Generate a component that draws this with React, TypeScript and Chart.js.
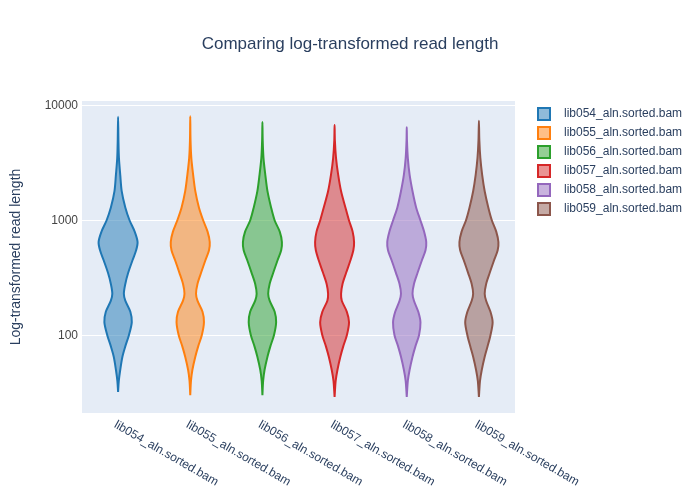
import React, { useEffect, useRef } from "react";
import { Chart, registerables } from "chart.js";
Chart.register(...registerables);

const categories = ["lib054_aln.sorted.bam","lib055_aln.sorted.bam","lib056_aln.sorted.bam","lib057_aln.sorted.bam","lib058_aln.sorted.bam","lib059_aln.sorted.bam"];
const colors = ["#1f77b4","#ff7f0e","#2ca02c","#d62728","#9467bd","#8c564b"];
const fills = ["rgba(31,119,180,0.5)","rgba(255,127,14,0.5)","rgba(44,160,44,0.5)","rgba(214,39,40,0.5)","rgba(148,103,189,0.5)","rgba(140,86,75,0.5)"];
// read length levels (log-spaced) at which violin half-widths are read
const levels = [40,50,65,80,100,130,160,200,230,280,350,450,550,650,800,1000,1300,1800,2500,3500,5000];
const minLength = [32,30,30,29,29,29];
const maxLength = [8000,8100,7200,6800,6500,7400];
const widths054 = [0.01,0.03,0.06,0.1,0.15,0.19,0.17,0.1,0.08,0.1,0.14,0.2,0.25,0.27,0.23,0.16,0.1,0.05,0.03,0.012,0.005];
const widths055 = [0.01,0.03,0.07,0.11,0.16,0.19,0.17,0.1,0.08,0.1,0.15,0.21,0.26,0.27,0.24,0.18,0.12,0.07,0.04,0.015,0.004];
const widths056 = [0.01,0.03,0.07,0.11,0.16,0.19,0.17,0.1,0.08,0.1,0.15,0.21,0.26,0.27,0.24,0.17,0.12,0.07,0.04,0.015,0.004];
const widths057 = [0.015,0.04,0.08,0.12,0.17,0.2,0.17,0.1,0.09,0.11,0.16,0.22,0.26,0.27,0.25,0.2,0.15,0.09,0.05,0.02,0.004];
const widths058 = [0.015,0.04,0.08,0.12,0.17,0.19,0.16,0.1,0.08,0.1,0.15,0.21,0.26,0.27,0.24,0.19,0.13,0.08,0.04,0.015,0.003];
const widths059 = [0.015,0.04,0.08,0.12,0.16,0.19,0.16,0.1,0.08,0.1,0.15,0.21,0.26,0.27,0.24,0.18,0.13,0.08,0.045,0.02,0.006];
const allWidths = [widths054,widths055,widths056,widths057,widths058,widths059];
const yTicks = [100,1000,10000];

const FONT = "'Liberation Sans', Arial, sans-serif";

export default function App() {
  const ref = useRef<HTMLCanvasElement>(null);
  useEffect(() => {
    document.body.style.margin = "0";
    const datasets = categories.map((name, i) => {
      const w = allWidths[i];
      const pts: {x:number;y:number}[] = [{ x: i, y: minLength[i] }];
      levels.forEach((l, k) => pts.push({ x: i + w[k], y: l }));
      pts.push({ x: i, y: maxLength[i] });
      for (let k = levels.length - 1; k >= 0; k--) pts.push({ x: i - w[k], y: levels[k] });
      pts.push({ x: i, y: minLength[i] });
      return {
        label: name, data: pts, showLine: true, fill: "shape" as any,
        borderColor: colors[i], backgroundColor: fills[i], borderWidth: 2,
        pointRadius: 0, tension: 0.3,
      };
    });
    const deco = {
      id: "deco",
      beforeDraw(c: any) {
        const { ctx, chartArea: a } = c;
        ctx.save(); ctx.fillStyle = "#e5ecf6";
        ctx.fillRect(a.left, a.top, a.right - a.left, a.bottom - a.top); ctx.restore();
      },
      afterDraw(c: any) {
        const ctx = c.ctx; const xs = c.scales.x;
        ctx.save();
        ctx.fillStyle = "#2a3f5f"; ctx.font = `17px ${FONT}`; ctx.textAlign = "center"; ctx.textBaseline = "middle";
        ctx.fillText("Comparing log-transformed read length", 350, 44);
        ctx.font = `12px ${FONT}`; ctx.textAlign = "left";
        categories.forEach((name, i) => {
          const px = xs.getPixelForValue(i);
          ctx.save(); ctx.translate(px - 3, 424); ctx.rotate(Math.PI / 6);
          ctx.fillText(name, 0, 0); ctx.restore();
          const y = 114 + i * 19;
          ctx.fillStyle = fills[i]; ctx.fillRect(538, y - 6, 12, 12);
          ctx.strokeStyle = colors[i]; ctx.lineWidth = 2; ctx.strokeRect(538, y - 6, 12, 12);
          ctx.fillStyle = "#2a3f5f"; ctx.fillText(name, 564, y);
        });
        ctx.restore();
      },
    };
    const chart = new Chart(ref.current!, {
      type: "scatter",
      data: { datasets },
      plugins: [deco],
      options: {
        animation: false, responsive: false,
        layout: { padding: { top: 101, right: 185, left: 0, bottom: 0 } },
        plugins: { legend: { display: false }, tooltip: { enabled: false } },
        scales: {
          x: {
            type: "linear", min: -0.5, max: 5.5,
            grid: { display: false }, border: { display: false },
            ticks: { display: false },
            afterFit: (s: any) => { s.height = 87; },
          },
          y: {
            type: "logarithmic", min: 21, max: 11000,
            afterBuildTicks: (s: any) => { s.ticks = yTicks.map(v => ({ value: v })); },
            ticks: { color: "#444", font: { size: 12, family: FONT }, callback: (v: any) => String(v), padding: 4 },
            grid: { color: "#ffffff", lineWidth: 1, drawTicks: false },
            border: { display: false },
            title: { display: true, text: "Log-transformed read length", color: "#2a3f5f", font: { size: 14, family: FONT }, padding: { top: 8, bottom: 0 } },
            afterFit: (s: any) => { s.width = 82; },
          },
        },
      },
    });
    return () => chart.destroy();
  }, []);
  return <canvas ref={ref} width={700} height={500} style={{ display: "block" }} />;
}
